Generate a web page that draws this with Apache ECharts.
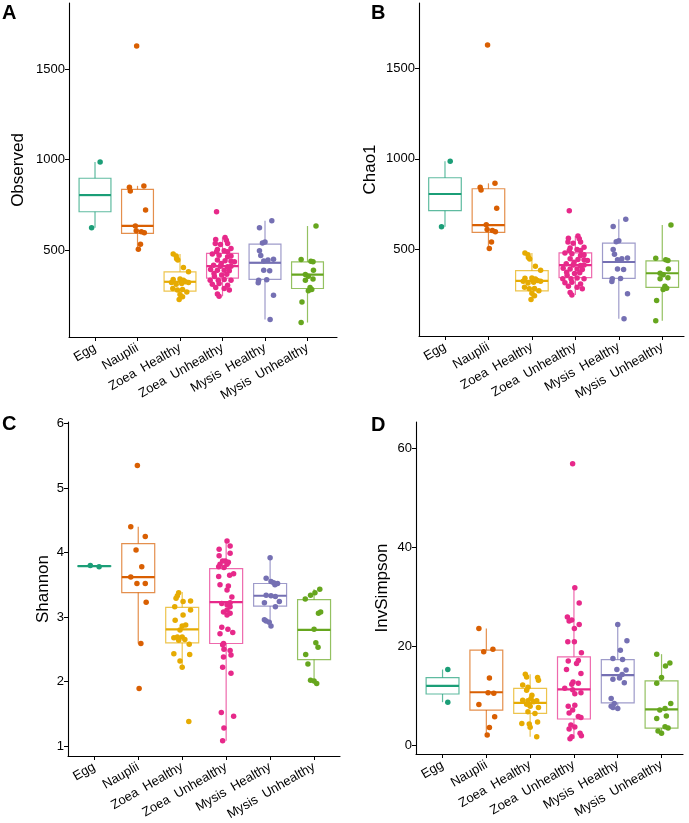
<!DOCTYPE html>
<html>
<head>
<meta charset="utf-8">
<title>Alpha diversity</title>
<script src="https://cdn.jsdelivr.net/npm/echarts@6/dist/echarts.min.js"></script>
<style>
html, body { margin: 0; padding: 0; background: #fff; }
#main { width: 689px; height: 823px; }
</style>
</head>
<body>
<div id="main"></div>
<script>
var groups = ['Egg', 'Nauplii', 'Zoea  Healthy', 'Zoea  Unhealthy', 'Mysis  Healthy', 'Mysis  Unhealthy'];
var palette = ['#1B9E77', '#D95F02', '#E6AB02', '#E7298A', '#7570B3', '#66A61E'];

// jitter (category units), shared by panels A and B
var jitAB = [
    [0.12, -0.08],
    [-0.19, -0.17, 0.15, 0.19, -0.05, -0.03, 0.09, 0.16, 0.07, 0.02, -0.02],
    [-0.16, -0.09, -0.08, -0.05, 0.08, 0.20, -0.16, 0.00, 0.08, 0.13, -0.20, -0.09, 0.04, 0.20, -0.17, -0.06, 0.06, 0.16, 0.00, 0.06, -0.02],
    [-0.14, -0.16, 0.06, 0.09, -0.17, -0.05, 0.12, -0.12, 0.04, -0.14, 0.12, -0.24, -0.08, 0.12, 0.20, -0.12, 0.06, 0.20, 0.28, -0.21, -0.05, 0.12, 0.20, -0.28, -0.12, 0.04, 0.16, -0.20, -0.02, 0.10, -0.29, -0.10, 0.04, 0.20, -0.24, -0.08, 0.12, -0.16, 0.04, -0.12, -0.08, 0.20, -0.03, -0.19, 0.16],
    [0.16, -0.13, -0.06, 0.00, -0.13, 0.20, -0.03, 0.07, -0.03, 0.11, -0.15, 0.04, -0.16, 0.20, 0.12, -0.10],
    [0.20, -0.15, 0.08, 0.13, 0.14, -0.05, 0.02, -0.05, 0.06, 0.10, 0.02, -0.13, -0.15, 0.13]
];
var observedVals = [
    [987, 623],
    [847, 826, 854, 721, 633, 607, 601, 596, 533, 505, 1627],
    [478, 467, 452, 445, 404, 380, 338, 340, 334, 325, 321, 312, 315, 321, 288, 279, 282, 269, 255, 242, 227],
    [712, 559, 570, 555, 537, 531, 537, 504, 496, 491, 491, 478, 472, 463, 467, 445, 441, 439, 435, 417, 411, 408, 411, 393, 389, 389, 386, 371, 362, 367, 334, 334, 338, 334, 312, 315, 306, 293, 288, 258, 245, 509, 426, 354, 279],
    [662, 623, 539, 545, 496, 449, 440, 445, 389, 386, 334, 336, 319, 251, 116, 470],
    [633, 448, 439, 435, 389, 365, 356, 334, 293, 282, 275, 214, 100, 340]
];
var chao1Vals = [
    [987, 625],
    [843, 828, 865, 727, 636, 610, 604, 598, 540, 505, 1630],
    [480, 470, 455, 447, 406, 384, 340, 342, 336, 328, 324, 314, 318, 323, 290, 282, 284, 271, 257, 244, 223],
    [714, 562, 574, 558, 540, 534, 540, 507, 499, 494, 494, 480, 476, 466, 470, 448, 444, 442, 438, 420, 414, 411, 414, 396, 392, 392, 389, 374, 366, 370, 338, 337, 341, 337, 315, 318, 309, 296, 291, 262, 247, 512, 429, 357, 282],
    [666, 627, 542, 548, 499, 452, 443, 448, 392, 389, 337, 339, 322, 254, 117, 473],
    [635, 451, 442, 438, 392, 368, 359, 337, 296, 285, 278, 217, 105, 343]
];
// box stats: [lower whisker, Q1, median, Q3, upper whisker]
var observedBox = [[623, 712, 804, 897, 987], [505, 592, 634, 836, 855], [227, 273, 325, 380, 478], [245, 345, 411, 482, 570], [116, 338, 430, 533, 662], [100, 288, 365, 435, 633]];
var chao1Box = [[625, 714, 806, 896, 987], [505, 594, 634, 835, 865], [223, 271, 326, 382, 480], [247, 344, 413, 481, 574], [117, 340, 430, 534, 666], [105, 290, 368, 436, 635]];

var jitC = [
    [-0.09, 0.11],
    [-0.02, -0.17, 0.16, -0.05, 0.08, -0.17, -0.03, 0.16, 0.18, 0.06, 0.02],
    [-0.08, -0.11, -0.14, 0.19, 0.02, -0.17, 0.19, 0.02, -0.16, 0.08, 0.00, -0.05, -0.19, -0.11, 0.00, 0.06, -0.08, 0.16, -0.19, 0.17, -0.05, 0.00, 0.15],
    [0.02, 0.09, -0.16, 0.09, -0.16, -0.02, -0.08, 0.05, -0.14, 0.02, -0.17, -0.05, 0.17, 0.08, -0.17, -0.14, 0.05, 0.02, 0.13, -0.10, 0.09, 0.02, -0.06, 0.09, 0.02, -0.10, -0.14, 0.04, 0.15, -0.06, -0.08, -0.05, 0.09, 0.11, -0.06, -0.08, 0.11, -0.11, 0.17, -0.05, -0.08, 0.09, 0.02],
    [0.00, -0.09, 0.02, 0.08, 0.17, 0.11, -0.09, 0.02, 0.12, 0.21, -0.13, 0.12, -0.13, -0.09, -0.02, 0.02],
    [0.13, 0.02, -0.08, -0.20, 0.15, 0.10, 0.00, 0.04, 0.09, -0.19, -0.14, -0.08, 0.00, 0.06]
];
var shannonVals = [
    [3.80, 3.78],
    [5.35, 4.40, 4.25, 4.04, 3.78, 3.62, 3.52, 3.52, 3.23, 2.59, 1.89],
    [3.375, 3.33, 3.29, 3.25, 3.24, 3.16, 3.11, 3.03, 2.95, 2.875, 2.86, 2.80, 2.68, 2.69, 2.69, 2.65, 2.64, 2.58, 2.43, 2.42, 2.32, 2.22, 1.38],
    [4.18, 4.10, 4.05, 3.99, 3.95, 3.87, 3.87, 3.85, 3.82, 3.82, 3.78, 3.77, 3.67, 3.65, 3.63, 3.50, 3.48, 3.42, 3.31, 3.21, 3.16, 3.11, 3.08, 3.06, 3.03, 2.84, 2.74, 2.81, 2.76, 2.59, 2.57, 2.50, 2.48, 2.41, 2.38, 2.22, 2.13, 1.52, 1.46, 1.28, 1.08, 3.22, 3.19],
    [3.92, 3.60, 3.55, 3.53, 3.52, 3.50, 3.34, 3.33, 3.32, 3.24, 3.22, 3.16, 2.96, 2.94, 2.92, 2.86],
    [3.43, 3.375, 3.34, 3.28, 3.08, 3.06, 2.81, 2.60, 2.53, 2.42, 2.27, 2.02, 2.01, 1.97]
];
var shannonBox = [[3.78, 3.785, 3.79, 3.795, 3.80], [2.59, 3.38, 3.62, 4.14, 4.40], [2.22, 2.60, 2.81, 3.15, 3.39], [1.08, 2.59, 3.23, 3.75, 4.18], [2.86, 3.17, 3.33, 3.52, 3.92], [1.97, 2.34, 2.80, 3.27, 3.43]];

var jitD = [
    [0.12, 0.12],
    [-0.17, -0.06, 0.15, 0.07, 0.04, 0.17, -0.17, 0.19, 0.07, 0.02],
    [-0.11, -0.08, 0.17, 0.19, -0.17, -0.05, -0.08, 0.04, 0.02, -0.17, -0.05, 0.08, 0.15, -0.08, 0.00, 0.19, -0.05, 0.11, 0.17, -0.19, -0.02, 0.00, 0.15],
    [-0.03, 0.02, 0.12, -0.15, -0.11, -0.05, 0.12, 0.01, -0.14, 0.01, 0.17, 0.10, -0.13, 0.06, -0.17, 0.16, -0.02, -0.05, 0.10, -0.21, -0.03, 0.16, 0.02, -0.13, 0.02, -0.03, -0.11, 0.10, 0.16, -0.07, 0.02, -0.11, 0.14, 0.17, -0.05, -0.09],
    [0.00, 0.21, 0.06, -0.11, 0.11, -0.02, 0.19, -0.11, 0.04, 0.15, -0.15, -0.08, -0.15, 0.00, -0.11, 0.10],
    [-0.11, 0.19, 0.09, 0.00, -0.11, 0.21, 0.08, -0.04, 0.11, -0.11, 0.08, 0.15, -0.08, 0.00]
];
var invSimpsonVals = [
    [15.4, 8.8],
    [23.7, 19.0, 19.5, 13.7, 10.7, 10.6, 8.35, 5.85, 3.7, 2.16],
    [14.46, 13.9, 13.8, 13.25, 12.25, 11.8, 11.2, 10.2, 9.55, 9.2, 9.08, 8.9, 9.08, 8.4, 8.0, 7.74, 6.86, 6.53, 4.78, 4.51, 4.38, 3.71, 1.82],
    [56.97, 31.9, 28.85, 26.0, 25.2, 25.4, 24.5, 23.7, 21.0, 21.0, 18.8, 17.2, 17.1, 16.6, 15.4, 14.6, 12.9, 12.4, 12.6, 11.6, 11.3, 10.7, 10.5, 8.0, 8.2, 7.2, 6.6, 5.9, 5.7, 4.2, 3.8, 3.4, 2.5, 2.0, 1.8, 1.4],
    [24.5, 21.2, 19.3, 17.6, 17.4, 15.4, 15.3, 13.45, 13.7, 12.7, 9.56, 8.55, 8.0, 7.5, 7.7, 14.4],
    [18.5, 16.7, 16.1, 13.8, 12.6, 8.55, 7.5, 7.2, 6.0, 5.5, 3.83, 3.57, 3.0, 2.5]
];
var invSimpsonBox = [[8.8, 10.45, 12.1, 13.75, 15.4], [2.16, 7.2, 10.8, 19.3, 23.7], [1.82, 6.53, 8.67, 11.6, 14.46], [1.4, 5.4, 11.4, 17.96, 31.9], [7.4, 8.67, 14.26, 17.4, 24.5], [2.5, 3.57, 7.34, 13.1, 18.5]];

var observedTicks = [500, 1000, 1500];
var chao1Ticks = [500, 1000, 1500];
var shannonTicks = [1, 2, 3, 4, 5, 6];
var invSimpsonTicks = [0, 20, 40, 60];

var FONT = '"Liberation Sans", Arial, Helvetica, sans-serif';
var catPos = [1, 2, 3, 4, 5, 6];

var panels = [
    { letter: 'A', name: 'Observed', vals: observedVals, jit: jitAB, box: observedBox, ticks: observedTicks,
      grid: { left: 69, top: 3, width: 268, height: 334 }, xr: [0.388, 6.694], yr: [20, 1865], nameGap: 42, lx: 2, ly: 3 },
    { letter: 'B', name: 'Chao1', vals: chao1Vals, jit: jitAB, box: chao1Box, ticks: chao1Ticks,
      grid: { left: 419, top: 3, width: 265, height: 333 }, xr: [0.402, 6.5], yr: [21, 1862], nameGap: 40, lx: 371, ly: 3 },
    { letter: 'C', name: 'Shannon', vals: shannonVals, jit: jitC, box: shannonBox, ticks: shannonTicks,
      grid: { left: 68, top: 422, width: 272, height: 334 }, xr: [0.402, 6.59], yr: [0.845, 6.025], nameGap: 16, lx: 2, ly: 414 },
    { letter: 'D', name: 'InvSimpson', vals: invSimpsonVals, jit: jitD, box: invSimpsonBox, ticks: invSimpsonTicks,
      grid: { left: 416, top: 422, width: 267, height: 332 }, xr: [0.394, 6.49], yr: [-1.67, 65.4], nameGap: 25, lx: 371, ly: 415 }
];

function renderBox(params, api) {
    var x = api.value(0);
    var half = api.size([0.75, 0])[0] / 2;
    var lo = api.coord([x, api.value(1)]);
    var q1 = api.coord([x, api.value(2)]);
    var md = api.coord([x, api.value(3)]);
    var q3 = api.coord([x, api.value(4)]);
    var hi = api.coord([x, api.value(5)]);
    var col = palette[params.dataIndex];
    var thin = { stroke: col, lineWidth: 1.2, opacity: 0.7, fill: null };
    return {
        type: 'group',
        children: [
            { type: 'line', shape: { x1: lo[0], y1: lo[1], x2: q1[0], y2: q1[1] }, style: thin },
            { type: 'line', shape: { x1: q3[0], y1: q3[1], x2: hi[0], y2: hi[1] }, style: thin },
            { type: 'rect', shape: { x: q3[0] - half, y: q3[1], width: half * 2, height: q1[1] - q3[1] }, style: thin },
            { type: 'line', shape: { x1: md[0] - half, y1: md[1], x2: md[0] + half, y2: md[1] }, style: { stroke: col, lineWidth: 2.2 } }
        ]
    };
}

var option = {
    backgroundColor: '#fff',
    animation: false,
    textStyle: { fontFamily: FONT },
    grid: [],
    xAxis: [],
    yAxis: [],
    series: [],
    graphic: []
};

panels.forEach(function (p, i) {
    option.grid.push(p.grid);
    option.xAxis.push({
        type: 'value', gridIndex: i, min: p.xr[0], max: p.xr[1],
        splitLine: { show: false },
        axisLine: { show: true, onZero: false, lineStyle: { color: '#000', width: 1.1 } },
        axisTick: { show: true, customValues: catPos, length: 4, lineStyle: { color: '#000', width: 1 } },
        axisLabel: {
            customValues: catPos, rotate: 30, margin: 10, fontSize: 13, color: '#000', fontFamily: FONT,
            formatter: function (v) { return groups[Math.round(v) - 1]; }
        }
    });
    option.yAxis.push({
        type: 'value', gridIndex: i, min: p.yr[0], max: p.yr[1],
        name: p.name, nameLocation: 'middle', nameGap: p.nameGap,
        nameTextStyle: { fontSize: 17, color: '#000', fontFamily: FONT },
        splitLine: { show: false },
        axisLine: { show: true, onZero: false, lineStyle: { color: '#000', width: 1.1 } },
        axisTick: { show: true, customValues: p.ticks, length: 4, lineStyle: { color: '#000', width: 1 } },
        axisLabel: {
            customValues: p.ticks, margin: 4, fontSize: 13, color: '#000', fontFamily: FONT,
            formatter: function (v) { return String(v); }
        }
    });
    option.series.push({
        type: 'custom', xAxisIndex: i, yAxisIndex: i,
        renderItem: renderBox,
        encode: { x: 0, y: [1, 2, 3, 4, 5] },
        data: p.box.map(function (b, g) { return [g + 1].concat(b); }),
        z: 1
    });
    groups.forEach(function (name, g) {
        option.series.push({
            type: 'scatter', xAxisIndex: i, yAxisIndex: i, name: name,
            symbolSize: 5.5,
            itemStyle: { color: palette[g], opacity: 1 },
            data: p.vals[g].map(function (v, k) { return [g + 1 + p.jit[g][k], v]; }),
            z: 2
        });
    });
    option.graphic.push({
        type: 'text', x: p.lx, y: p.ly,
        style: { text: p.letter, font: 'bold 20px ' + FONT, fill: '#000', verticalAlign: 'top' }
    });
});

var chart = echarts.init(document.getElementById('main'), null, { renderer: 'canvas' });
chart.setOption(option);
</script>
</body>
</html>
